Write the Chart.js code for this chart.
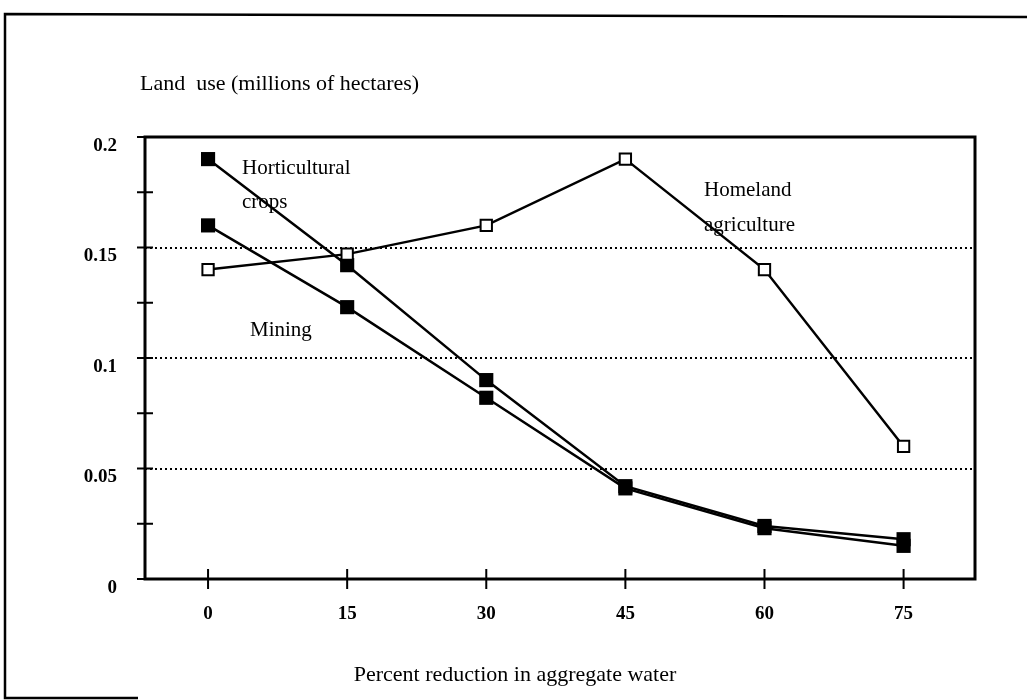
<!DOCTYPE html>
<html lang="en">

<head>
    <meta charset="UTF-8">
    <title>Land use</title>
    <script src="https://cdn.jsdelivr.net/npm/chart.js"></script>
    <style>
        body {
            margin: 0;
            background: #fff;
        }

        #wrap {
            width: 1027px;
            height: 700px;
            position: relative;
        }
    </style>
</head>

<body>
    <div id="wrap"><canvas id="chart"></canvas></div>

    <script>
        // percent reduction in aggregate water
        const reductions = [0, 15, 30, 45, 60, 75];
        const horticultural = [0.19, 0.142, 0.09, 0.042, 0.024, 0.018];
        const mining = [0.16, 0.123, 0.082, 0.041, 0.023, 0.015];
        const homeland = [0.14, 0.147, 0.16, 0.19, 0.14, 0.06];

        const yTickValues = [0, 0.025, 0.05, 0.075, 0.1, 0.125, 0.15, 0.175, 0.2];
        const yTickLabels = ['0', '', '0.05', '', '0.1', '', '0.15', '', '0.2'];
        const gridValues = [0.05, 0.1, 0.15];

        const serif = '"Liberation Serif", "DejaVu Serif", serif';

        const toPoints = vals => vals.map((v, i) => ({ x: reductions[i], y: v }));
        const near = (a, b) => Math.abs(a - b) < 1e-6;

        const decorations = {
            id: 'decorations',
            afterDraw(chart) {
                const ctx = chart.ctx;
                const area = chart.chartArea;
                const xs = chart.scales.x;
                const ys = chart.scales.y;
                ctx.save();
                ctx.strokeStyle = '#000';

                // plot frame
                ctx.lineWidth = 3;
                ctx.strokeRect(area.left, area.top, area.right - area.left, area.bottom - area.top);

                // tick marks crossing the axes
                ctx.lineWidth = 2;
                ctx.beginPath();
                yTickValues.forEach(v => {
                    const y = ys.getPixelForValue(v);
                    ctx.moveTo(area.left - 8, y);
                    ctx.lineTo(area.left + 8, y);
                });
                reductions.forEach(v => {
                    const x = xs.getPixelForValue(v);
                    ctx.moveTo(x, area.bottom - 10);
                    ctx.lineTo(x, area.bottom + 10);
                });
                ctx.stroke();

                // outer page frame (left, top, and a stub of the bottom)
                ctx.lineWidth = 2.5;
                ctx.beginPath();
                ctx.moveTo(1027, 17);
                ctx.lineTo(5, 14);
                ctx.lineTo(5, 698);
                ctx.lineTo(138, 698);
                ctx.stroke();

                // texts
                ctx.fillStyle = '#000';
                ctx.textBaseline = 'middle';
                ctx.textAlign = 'left';
                ctx.font = '22px ' + serif;
                ctx.fillText('Land  use (millions of hectares)', 140, 84);
                ctx.font = '21px ' + serif;
                ctx.fillText('Horticultural', 242, 168);
                ctx.fillText('crops', 242, 202);
                ctx.fillText('Mining', 250, 330);
                ctx.fillText('Homeland', 704, 190);
                ctx.fillText('agriculture', 704, 225);
                ctx.textAlign = 'center';
                ctx.font = '22px ' + serif;
                ctx.fillText('Percent reduction in aggregate water', 515, 675);
                ctx.restore();
            }
        };

        new Chart(document.getElementById('chart'), {
            type: 'line',
            data: {
                datasets: [
                    {
                        label: 'Homeland agriculture',
                        data: toPoints(homeland),
                        borderColor: '#000',
                        borderWidth: 2.5,
                        pointStyle: 'rect',
                        pointRadius: 8,
                        pointBackgroundColor: '#fff',
                        pointBorderColor: '#000',
                        pointBorderWidth: 2,
                    },
                    {
                        label: 'Horticultural crops',
                        data: toPoints(horticultural),
                        borderColor: '#000',
                        borderWidth: 2.5,
                        pointStyle: 'rect',
                        pointRadius: 10,
                        pointBackgroundColor: '#000',
                        pointBorderColor: '#000',
                        pointBorderWidth: 0,
                    },
                    {
                        label: 'Mining',
                        data: toPoints(mining),
                        borderColor: '#000',
                        borderWidth: 2.5,
                        pointStyle: 'rect',
                        pointRadius: 10,
                        pointBackgroundColor: '#000',
                        pointBorderColor: '#000',
                        pointBorderWidth: 0,
                    },
                ],
            },
            options: {
                responsive: true,
                maintainAspectRatio: false,
                animation: false,
                layout: {
                    padding: { top: 137, right: 52, left: 0, bottom: 0 },
                },
                plugins: {
                    legend: { display: false },
                    tooltip: { enabled: false },
                },
                scales: {
                    x: {
                        type: 'linear',
                        min: -6.8,
                        max: 82.7,
                        afterBuildTicks: scale => {
                            scale.ticks = reductions.map(v => ({ value: v }));
                        },
                        afterFit: scale => {
                            scale.height = 121;
                        },
                        grid: { display: false, drawTicks: false },
                        border: { display: false },
                        ticks: {
                            color: '#000',
                            padding: 24,
                            maxRotation: 0,
                            font: { family: serif, size: 19, weight: 'bold' },
                            callback: v => String(v),
                        },
                    },
                    y: {
                        min: 0,
                        max: 0.2,
                        afterBuildTicks: scale => {
                            scale.ticks = yTickValues.map(v => ({ value: v }));
                        },
                        afterFit: scale => {
                            scale.width = 145;
                        },
                        grid: {
                            drawTicks: false,
                            lineWidth: 2,
                            color: c => gridValues.some(g => near(g, c.tick.value)) ? '#000' : 'transparent',
                        },
                        border: { display: false, dash: [2, 3] },
                        ticks: {
                            color: '#000',
                            padding: 28,
                            labelOffset: 9,
                            font: { family: serif, size: 19, weight: 'bold' },
                            callback: (v, i) => yTickLabels[i],
                        },
                    },
                },
            },
            plugins: [decorations],
        });
    </script>
</body>

</html>
